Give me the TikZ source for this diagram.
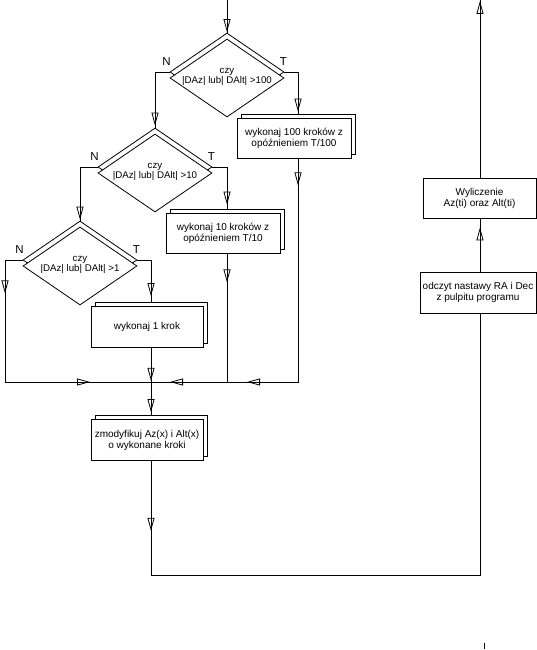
\documentclass[tikz,border=0pt]{standalone}
\usepackage{fontspec}
\setmainfont{Liberation Sans}
\usetikzlibrary{shapes.geometric,arrows.meta,decorations.markings,calc}
\begin{document}
\begin{tikzpicture}[x=1pt,y=-1pt,
  line width=0.8pt,
  every node/.style={font=\fontsize{10}{11}\selectfont},
  box/.style={draw, fill=white, minimum width=114pt, minimum height=40pt, inner sep=0pt, align=center},
  shadowbox/.style={draw, fill=white, minimum width=114pt, minimum height=40pt, inner sep=0pt},
  dia/.style={draw, diamond, fill=white, minimum width=114pt, minimum height=78pt, inner sep=0pt},
  diatext/.style={align=center, inner sep=0pt, font=\fontsize{9.7}{10.5}\selectfont},
  lbl/.style={font=\fontsize{11.5}{12}\selectfont, inner sep=0pt},
  tip/.style={postaction={decorate, decoration={markings, mark=at position #1 with {\arrow{Triangle[open, length=13pt, width=7pt]}}}}},
]
\useasboundingbox (0,0) rectangle (537,650);

% decisions
\node[dia] (d1s) at (227,72) {};
\node[dia] (d1) at (227,78) {};
\node[diatext] (t1) at (227,77) {czy\\|DAz| lub| DAlt| >100};
\node[dia] (d2s) at (155,167) {};
\node[dia] (d2) at (155,173) {};
\node[diatext] (t2) at (155,172) {czy\\|DAz| lub| DAlt| >10};
\node[dia] (d3s) at (80,260) {};
\node[dia] (d3) at (80,266) {};
\node[diatext] (t3) at (80,265) {czy\\|DAz| lub| DAlt| >1};

\node[lbl] (n1) at ($(d1s.west)+(-3,-10)$) {N};
\node[lbl] (y1) at ($(d1s.east)+(-1,-10)$) {T};
\node[lbl] (n2) at ($(d2s.west)+(-3,-10)$) {N};
\node[lbl] (y2) at ($(d2s.east)+(-1,-10)$) {T};
\node[lbl] (n3) at ($(d3s.west)+(-3,-10)$) {N};
\node[lbl] (y3) at ($(d3s.east)+(-1,-10)$) {T};

% process boxes with shadow
\node[shadowbox] (b1s) at (298,134) {};
\node[box] (b1) at (294,138) {wykonaj 100 kroków z\\opóźnieniem T/100};
\node[shadowbox] (b2s) at (227,229) {};
\node[box] (b2) at (223,233) {wykonaj 10 kroków z\\opóźnieniem T/10};
\node[shadowbox, minimum width=112pt, minimum height=41pt] (b3s) at (151,323) {};
\node[box, minimum width=112pt, minimum height=41pt] (b3) at (147,327) {wykonaj 1 krok};
\node[shadowbox, minimum width=112pt, minimum height=41pt] (b4s) at (151,436) {};
\node[box, minimum width=112pt, minimum height=41pt] (b4) at (147,440) {zmodyfikuj Az(x) i Alt(x)\\o wykonane kroki};

\node[box, minimum width=113pt] (wyl) at (479.5,198) {Wyliczenie\\Az(ti) oraz Alt(ti)};
\node[box, minimum width=116pt, minimum height=41pt] (odc) at (478,292.5) {odczyt nastawy RA i Dec\\z pulpitu programu};

% coordinates
\coordinate (top) at (227,0);
\coordinate (j) at (151,382);
\coordinate (l3) at (5,260);
\coordinate (bl) at (151,575);
\coordinate (br) at (480,575);
\coordinate (topr) at (480,0.5);

% connectors
\draw[tip=-0.5pt] (top) -- (d1s.north);
\draw[tip=-2pt] (d1s.west) -| (d2s.north);
\draw[tip=-2pt] (d1s.east) -| (b1s.north);
\draw[tip=27pt, tip=-96pt, tip=-19pt] (b1s.north |- b1.south) |- (j);
\draw[tip=-1pt] (d2s.west) -| (d3s.north);
\draw[tip=-4pt] (d2s.east) -| (b2s.north);
\draw[tip=29pt] (b2s.north |- b2.south) -- (b2s.north |- j);
\draw[tip=51pt, tip=-61pt] (d3s.west) -- (l3) |- (j);
\draw[tip=-6pt] (d3s.east) -| (b3s.north);
\draw[tip=33pt, tip=-3pt] (b3s.north |- b3.south) -- (b4s.north);
\draw[tip=70pt] (b4s.north |- b4.south) -- (bl) -- (br) -- (br |- odc.south);
\draw[tip=-9pt] (br |- odc.north) -- (br |- wyl.south);
\draw[tip=-0.5pt] (br |- wyl.north) -- (topr);

% small tick
\coordinate (k1) at (484,643);
\coordinate (k2) at (484,649);
\draw (k1) -- (k2);
\end{tikzpicture}
\end{document}
